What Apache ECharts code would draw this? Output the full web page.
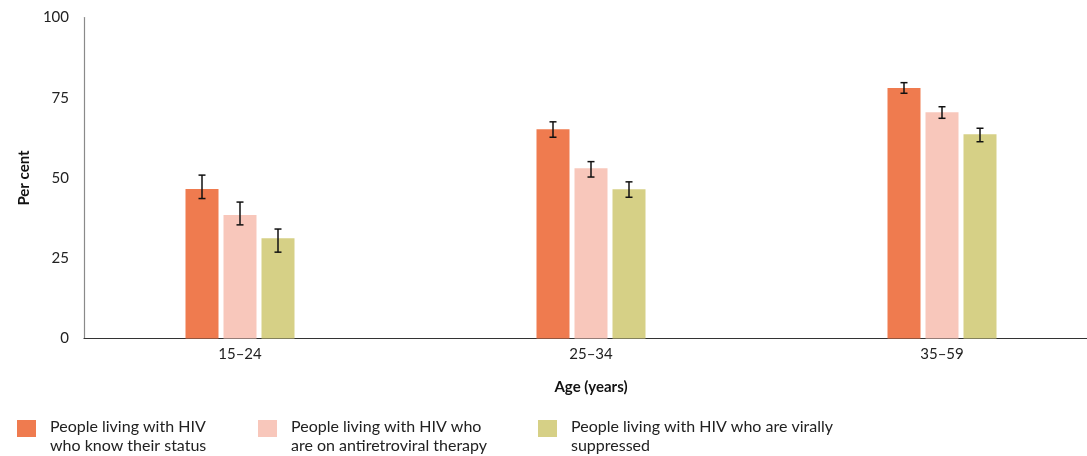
<!DOCTYPE html>
<html><head><meta charset="utf-8">
<script src="https://cdn.jsdelivr.net/npm/echarts@6/dist/echarts.min.js"></script>
<style>html,body{margin:0;padding:0;background:#fff}#c{width:1087px;height:456px}</style>
</head><body><div id="c"></div>
<script>
const categories = ['15–24', '25–34', '35–59'];
const seriesNames = [
  'People living with HIV\nwho know their status',
  'People living with HIV who\nare on antiretroviral therapy',
  'People living with HIV who are virally\nsuppressed'
];
const knowStatus = [46.6, 65.2, 78.0];
const knowStatusLow = [43.6, 62.7, 76.4];
const knowStatusHigh = [50.9, 67.5, 79.7];
const onTherapy = [38.5, 53.0, 70.5];
const onTherapyLow = [35.4, 50.3, 68.6];
const onTherapyHigh = [42.5, 55.1, 72.2];
const suppressed = [31.2, 46.5, 63.6];
const suppressedLow = [26.9, 44.0, 61.3];
const suppressedHigh = [34.1, 48.8, 65.5];
const yTicks = [0, 25, 50, 75, 100];

const colors = ['#ef7b4f', '#f8c7bb', '#d6d086'];
const BAR_W = 33, BAR_GAP = 5;
const FONT = 'Lato, "Noto Sans", sans-serif';

function errSeries(idx, lows, highs) {
  const offset = (idx - 1) * (BAR_W + BAR_GAP);
  return {
    type: 'custom', name: 'err' + idx, xAxisIndex: 0, yAxisIndex: 0, z: 10,
    data: categories.map((c, i) => [i, lows[i], highs[i]]),
    encode: { x: 0, y: [1, 2] },
    renderItem: function (params, api) {
      const lo = api.coord([api.value(0), api.value(1)]);
      const hi = api.coord([api.value(0), api.value(2)]);
      const x = lo[0] + offset;
      const cap = 3.5;
      const st = { stroke: '#111', lineWidth: 1.5 };
      return { type: 'group', children: [
        { type: 'line', shape: { x1: x, y1: hi[1], x2: x, y2: lo[1] }, style: st },
        { type: 'line', shape: { x1: x - cap, y1: hi[1], x2: x + cap, y2: hi[1] }, style: st },
        { type: 'line', shape: { x1: x - cap, y1: lo[1], x2: x + cap, y2: lo[1] }, style: st }
      ]};
    },
    silent: true
  };
}

// square icon at the top of a taller (invisible) box so that it aligns with the first text line
const LEGEND_ICON = 'path://M0,0H19V17H0Z M0,33L19,33Z';

function legendAt(name, left) {
  return {
    left: left, top: 417, padding: 0, orient: 'horizontal', data: [name],
    itemWidth: 19, itemHeight: 33, itemGap: 0, icon: LEGEND_ICON, symbolKeepAspect: false,
    itemStyle: { borderWidth: 0 },
    textStyle: { fontFamily: FONT, fontSize: 16, color: '#222', lineHeight: 19.5, padding: [0, 0, 0, 9] },
    selectedMode: false
  };
}

const chart = echarts.init(document.getElementById('c'));
chart.setOption({
  animation: false,
  color: colors,
  textStyle: { fontFamily: FONT },
  legend: [legendAt(seriesNames[0], 17), legendAt(seriesNames[1], 258), legendAt(seriesNames[2], 538)],
  grid: [
    { left: 64.5, width: 1053, top: 17.5, bottom: 117.5, containLabel: false, outerBoundsMode: 'none' },
    { left: 84, right: 0, top: 17.5, bottom: 117.5, containLabel: false, outerBoundsMode: 'none' }
  ],
  xAxis: [
    {
      type: 'category', gridIndex: 0, data: categories,
      axisLine: { show: false }, axisTick: { show: false },
      axisLabel: { fontFamily: FONT, fontSize: 15, color: '#222', margin: 8 },
      name: 'Age (years)', nameLocation: 'middle', nameGap: 41,
      nameTextStyle: { fontFamily: FONT, fontSize: 15, fontWeight: 'bold', color: '#111' }
    },
    {
      type: 'value', gridIndex: 1, min: 0, max: 1,
      axisLine: { show: true, onZero: false, lineStyle: { color: '#333', width: 1.2 } },
      axisTick: { show: false }, axisLabel: { show: false }, splitLine: { show: false }
    }
  ],
  yAxis: [
    {
      type: 'value', gridIndex: 0, min: yTicks[0], max: yTicks[yTicks.length - 1], interval: 25,
      offset: -19.5,
      axisLine: { show: true, lineStyle: { color: '#8a8a8a', width: 1.2 } },
      axisTick: { show: false }, splitLine: { show: false },
      axisLabel: { fontFamily: FONT, fontSize: 15, color: '#222', margin: 15 },
      name: 'Per cent', nameLocation: 'middle', nameGap: 52,
      nameTextStyle: { fontFamily: FONT, fontSize: 15, fontWeight: 'bold', color: '#111' }
    },
    { type: 'value', gridIndex: 1, min: 0, max: 1, show: false }
  ],
  series: [
    { type: 'bar', name: seriesNames[0], data: knowStatus, barWidth: BAR_W, barGap: (BAR_GAP / BAR_W * 100) + '%', itemStyle: { color: colors[0] } },
    { type: 'bar', name: seriesNames[1], data: onTherapy, barWidth: BAR_W, barGap: (BAR_GAP / BAR_W * 100) + '%', itemStyle: { color: colors[1] } },
    { type: 'bar', name: seriesNames[2], data: suppressed, barWidth: BAR_W, barGap: (BAR_GAP / BAR_W * 100) + '%', itemStyle: { color: colors[2] } },
    errSeries(0, knowStatusLow, knowStatusHigh),
    errSeries(1, onTherapyLow, onTherapyHigh),
    errSeries(2, suppressedLow, suppressedHigh)
  ]
});
</script>
</body></html>
